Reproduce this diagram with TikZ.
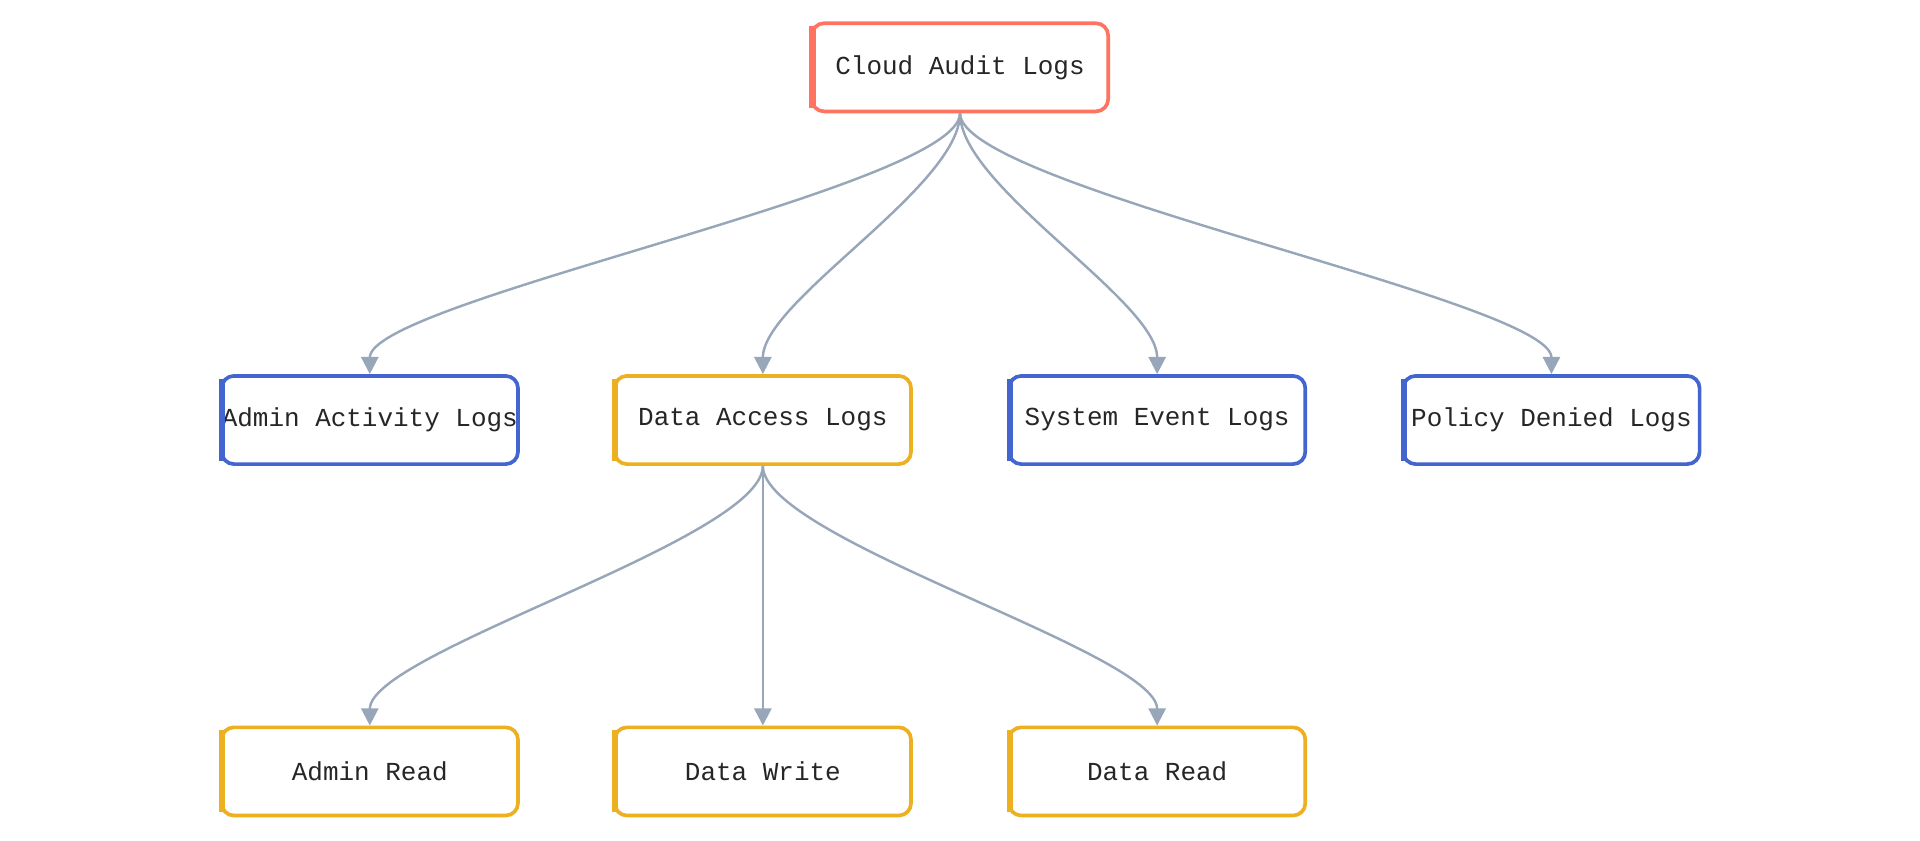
\documentclass[tikz,border=0pt]{standalone}
\usepackage{fontspec}
\setmonofont{Liberation Mono}
\usetikzlibrary{arrows.meta}
\definecolor{rootred}{HTML}{FF7360}
\definecolor{leafblue}{HTML}{4265D0}
\definecolor{dataamber}{HTML}{ECB021}
\definecolor{edgegray}{HTML}{98A6BA}
\tikzset{
  logbox/.style={draw=#1, line width=1.5pt, rounded corners=5pt, fill=white,
    minimum width=121pt, minimum height=36pt, inner sep=0pt,
    font=\ttfamily\fontsize{10.6}{12}\selectfont, text=black!85},
  bar/.style={line width=2.5pt, #1},
  link/.style={edgegray, line width=1pt, -{Triangle[length=7pt,width=7pt]}},
}
\newcommand{\leftbar}[2]{\draw[bar=#2] ([xshift=1pt,yshift=-2pt]#1.north west) -- ([xshift=1pt,yshift=2pt]#1.south west);}
\begin{document}
\begin{tikzpicture}[x=0.5pt,y=-0.5pt]
\useasboundingbox (0,0) rectangle (1568,686);

\node[logbox=rootred] (cal) at (784,55) {Cloud Audit Logs};
\leftbar{cal}{rootred}

\node[logbox=leafblue] (aal) at (302,343) {Admin Activity Logs};
\node[logbox=dataamber] (dal) at (623,343) {Data Access Logs};
\node[logbox=leafblue] (sel) at (945,343) {System Event Logs};
\node[logbox=leafblue] (pdl) at (1267,343) {Policy Denied Logs};
\leftbar{aal}{leafblue}
\leftbar{dal}{dataamber}
\leftbar{sel}{leafblue}
\leftbar{pdl}{leafblue}

\node[logbox=dataamber] (ar) at (302,630) {Admin Read};
\node[logbox=dataamber] (dw) at (623,630) {Data Write};
\node[logbox=dataamber] (dr) at (945,630) {Data Read};
\leftbar{ar}{dataamber}
\leftbar{dw}{dataamber}
\leftbar{dr}{dataamber}

% edges
\foreach \t in {aal,dal,sel,pdl}
  \draw[link] (cal.south) .. controls +(0,60) and +(0,-60) .. (\t.north);
\foreach \t in {ar,dr}
  \draw[link] (dal.south) .. controls +(0,60) and +(0,-60) .. (\t.north);
\draw[link] (dal.south) -- (dw.north);

\end{tikzpicture}
\end{document}
